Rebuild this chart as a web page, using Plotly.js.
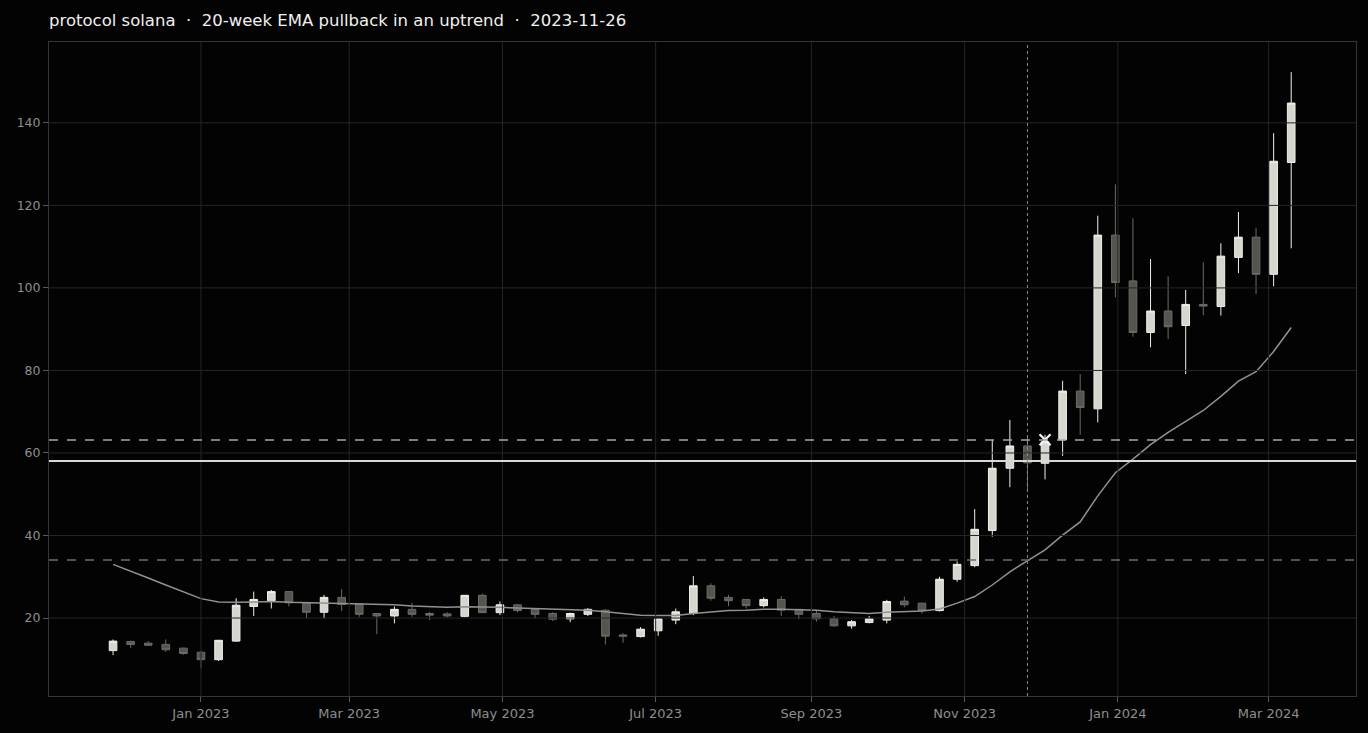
<!DOCTYPE html>
<html>
<head>
<meta charset="utf-8">
<script src="https://cdn.plot.ly/plotly-3.0.1.min.js"></script>
<style>
html,body{margin:0;padding:0;background:#030303;}
#chart{width:1368px;height:733px;}
</style>
</head>
<body>
<div id="chart"></div>
<script>
const dates = [
 "2022-11-27","2022-12-04","2022-12-11","2022-12-18","2022-12-25",
 "2023-01-01","2023-01-08","2023-01-15","2023-01-22","2023-01-29",
 "2023-02-05","2023-02-12","2023-02-19","2023-02-26","2023-03-05",
 "2023-03-12","2023-03-19","2023-03-26","2023-04-02","2023-04-09",
 "2023-04-16","2023-04-23","2023-04-30","2023-05-07","2023-05-14",
 "2023-05-21","2023-05-28","2023-06-04","2023-06-11","2023-06-18",
 "2023-06-25","2023-07-02","2023-07-09","2023-07-16","2023-07-23",
 "2023-07-30","2023-08-06","2023-08-13","2023-08-20","2023-08-27",
 "2023-09-03","2023-09-10","2023-09-17","2023-09-24","2023-10-01",
 "2023-10-08","2023-10-15","2023-10-22","2023-10-29","2023-11-05",
 "2023-11-12","2023-11-19","2023-11-26","2023-12-03","2023-12-10",
 "2023-12-17","2023-12-24","2023-12-31","2024-01-07","2024-01-14",
 "2024-01-21","2024-01-28","2024-02-04","2024-02-11","2024-02-18",
 "2024-02-25","2024-03-03","2024-03-10"
];
const openV = [
 12.1,14.3,13.9,13.6,12.7, 11.7,9.9,14.4,22.8,24.2,
 26.4,23.7,21.4,25.0,23.4, 21.1,20.5,22.1,21.1,21.0,
 20.4,25.5,21.3,23.2,22.1, 21.1,19.8,20.9,21.9,15.9,
 15.5,16.9,19.5,21.1,27.8, 25.0,24.5,23.0,24.5,22.1,
 21.1,19.8,18.1,18.9,19.5, 24.1,23.6,21.8,29.4,32.7,
 41.2,56.3,61.7,57.5,63.2, 75.0,70.7,112.8,101.7,89.2,
 94.4,90.9,96.0,95.5,107.4, 112.3,103.3,130.4
];
const highV = [
 14.8,14.5,14.4,14.8,12.8, 12.0,14.7,24.8,26.4,26.8,
 26.5,23.8,25.6,27.0,23.5, 21.2,22.8,23.7,21.5,21.4,
 25.6,25.9,24.0,23.4,22.2, 21.4,21.3,22.4,22.1,16.3,
 17.8,19.9,22.3,30.2,28.4, 25.6,24.6,25.0,25.3,22.2,
 21.8,20.5,19.5,20.5,24.4, 25.2,23.7,30.0,33.7,46.4,
 63.2,68.0,63.8,64.4,77.5, 79.1,117.5,125.1,116.9,107.0,
 102.8,99.5,106.2,110.8,118.4, 114.6,137.5,152.3
];
const lowV = [
 11.0,12.8,13.3,11.8,11.1, 7.8,9.6,14.2,20.5,22.3,
 22.8,19.9,19.9,21.7,20.3, 16.1,18.7,20.3,19.5,20.1,
 20.2,21.2,20.7,21.4,19.9, 19.3,19.0,20.5,13.6,14.0,
 15.3,15.7,18.5,20.7,24.2, 22.9,22.3,22.6,20.5,19.7,
 19.1,17.9,17.4,18.7,18.7, 22.6,21.1,21.6,28.8,32.3,
 39.7,51.7,51.0,53.6,59.3, 64.4,67.4,97.7,88.2,85.6,
 87.6,79.1,93.4,93.3,103.6, 98.5,100.4,109.6
];
const closeV = [
 14.4,13.6,13.4,12.3,11.4, 9.9,14.6,23.1,24.5,26.4,
 23.7,21.4,25.0,23.3,20.9, 20.5,22.1,20.9,20.7,20.5,
 25.5,21.3,23.2,21.8,20.9, 19.7,21.1,22.1,15.6,15.6,
 17.3,19.8,21.5,27.8,24.8, 24.2,23.0,24.5,21.9,20.9,
 19.8,18.1,19.1,19.8,24.0, 23.2,21.8,29.4,33.0,41.5,
 56.3,61.7,57.6,62.7,75.0, 71.0,112.8,101.3,89.2,94.4,
 90.6,96.0,95.6,107.7,112.3, 103.3,130.7,144.8
];
const ema20 = [
 33.0,31.4,29.7,28.0,26.3, 24.7,23.9,23.8,23.9,24.0,
 23.8,23.7,23.6,23.6,23.5, 23.3,23.2,22.9,22.7,22.6,
 22.7,22.7,22.6,22.4,22.3, 22.1,22.0,21.9,21.5,21.1,
 20.7,20.6,20.6,21.1,21.5, 21.8,21.9,22.1,22.1,22.0,
 21.9,21.5,21.3,21.1,21.4, 21.5,21.7,22.2,23.6,25.2,
 28.0,31.2,33.9,36.5,40.1, 43.3,49.6,55.2,58.5,62.0,
 65.0,67.7,70.3,73.7,77.4, 79.7,84.6,90.4
];
const signalDate = "2023-11-26";
const entryDate = ["2023-12-03"];
const entryPrice = [63.2];
const levelMain = 58.06;
const levelUpper = 63.15;
const levelLower = 34.06;
const yTicks = [20,40,60,80,100,120,140];
const xTicks = ["2023-01-01","2023-03-01","2023-05-01","2023-07-01","2023-09-01","2023-11-01","2024-01-01","2024-03-01"];
const titleText = "protocol solana  ·  20-week EMA pullback in an uptrend  ·  2023-11-26";

const gridColor = "#262626";
const shapes = [];
yTicks.forEach(v => shapes.push({type:"line", xref:"paper", x0:0, x1:1, yref:"y", y0:v, y1:v, layer:"above", line:{color:gridColor, width:1}}));
xTicks.forEach(d => shapes.push({type:"line", yref:"paper", y0:0, y1:1, xref:"x", x0:d, x1:d, layer:"above", line:{color:gridColor, width:1}}));
shapes.push({type:"line", xref:"paper", x0:0, x1:1, yref:"y", y0:levelMain, y1:levelMain, layer:"above", line:{color:"#d8d8d8", width:2}});
shapes.push({type:"line", xref:"paper", x0:0, x1:1, yref:"y", y0:levelUpper, y1:levelUpper, layer:"above", line:{color:"#a8a8a8", width:1.5, dash:"dash"}});
shapes.push({type:"line", xref:"paper", x0:0, x1:1, yref:"y", y0:levelLower, y1:levelLower, layer:"above", line:{color:"#6e6e6e", width:1.5, dash:"dash"}});
shapes.push({type:"line", yref:"paper", y0:0, y1:1, xref:"x", x0:signalDate, x1:signalDate, layer:"above", line:{color:"#8a8a8a", width:1, dash:"dot"}});

const traces = [
 {
  type:"scatter", mode:"lines", x:dates, y:ema20,
  line:{color:"#929292", width:1.5}, hoverinfo:"skip", showlegend:false
 },
 {
  type:"candlestick", x:dates, open:openV, high:highV, low:lowV, close:closeV,
  increasing:{fillcolor:"#d6d6ce", line:{color:"#f0f0ea", width:1}},
  decreasing:{fillcolor:"#55554f", line:{color:"#6c6c66", width:1}},
  whiskerwidth:0, showlegend:false
 },
 {
  type:"scatter", mode:"markers", x:entryDate, y:entryPrice,
  marker:{symbol:"x-thin", size:11, line:{color:"#f4f4f4", width:2.2}},
  showlegend:false
 }
];

const axisCommon = {
  showgrid:false, zeroline:false,
  showline:true, mirror:true, linecolor:"#353535", linewidth:1,
  ticks:"outside", ticklen:5, tickcolor:"#5a5a5a",
  tickfont:{family:"DejaVu Sans", size:12.5, color:"#8e8e8e"}
};

const layout = {
  width:1368, height:733,
  paper_bgcolor:"#030303", plot_bgcolor:"#030303",
  margin:{l:49, r:12, t:42, b:37},
  boxgap:0.38,
  title:{text:titleText, x:49/1368, xref:"container", xanchor:"left", y:1-20/733, yref:"container", yanchor:"middle",
         font:{family:"DejaVu Sans", size:16.5, color:"#f0f0f0"}},
  xaxis:Object.assign({}, axisCommon, {
    type:"date", range:["2022-11-01 12:00","2024-04-04 19:00"],
    tickvals:xTicks, tickformat:"%b %Y", rangeslider:{visible:false},
    tickfont:{family:"DejaVu Sans", size:13, color:"#8e8e8e"}
  }),
  yaxis:Object.assign({}, axisCommon, {
    range:[1.1,159.6], tickvals:yTicks
  }),
  shapes:shapes,
  showlegend:false,
  hovermode:false
};

Plotly.newPlot("chart", traces, layout, {staticPlot:true, displayModeBar:false});
</script>
</body>
</html>
